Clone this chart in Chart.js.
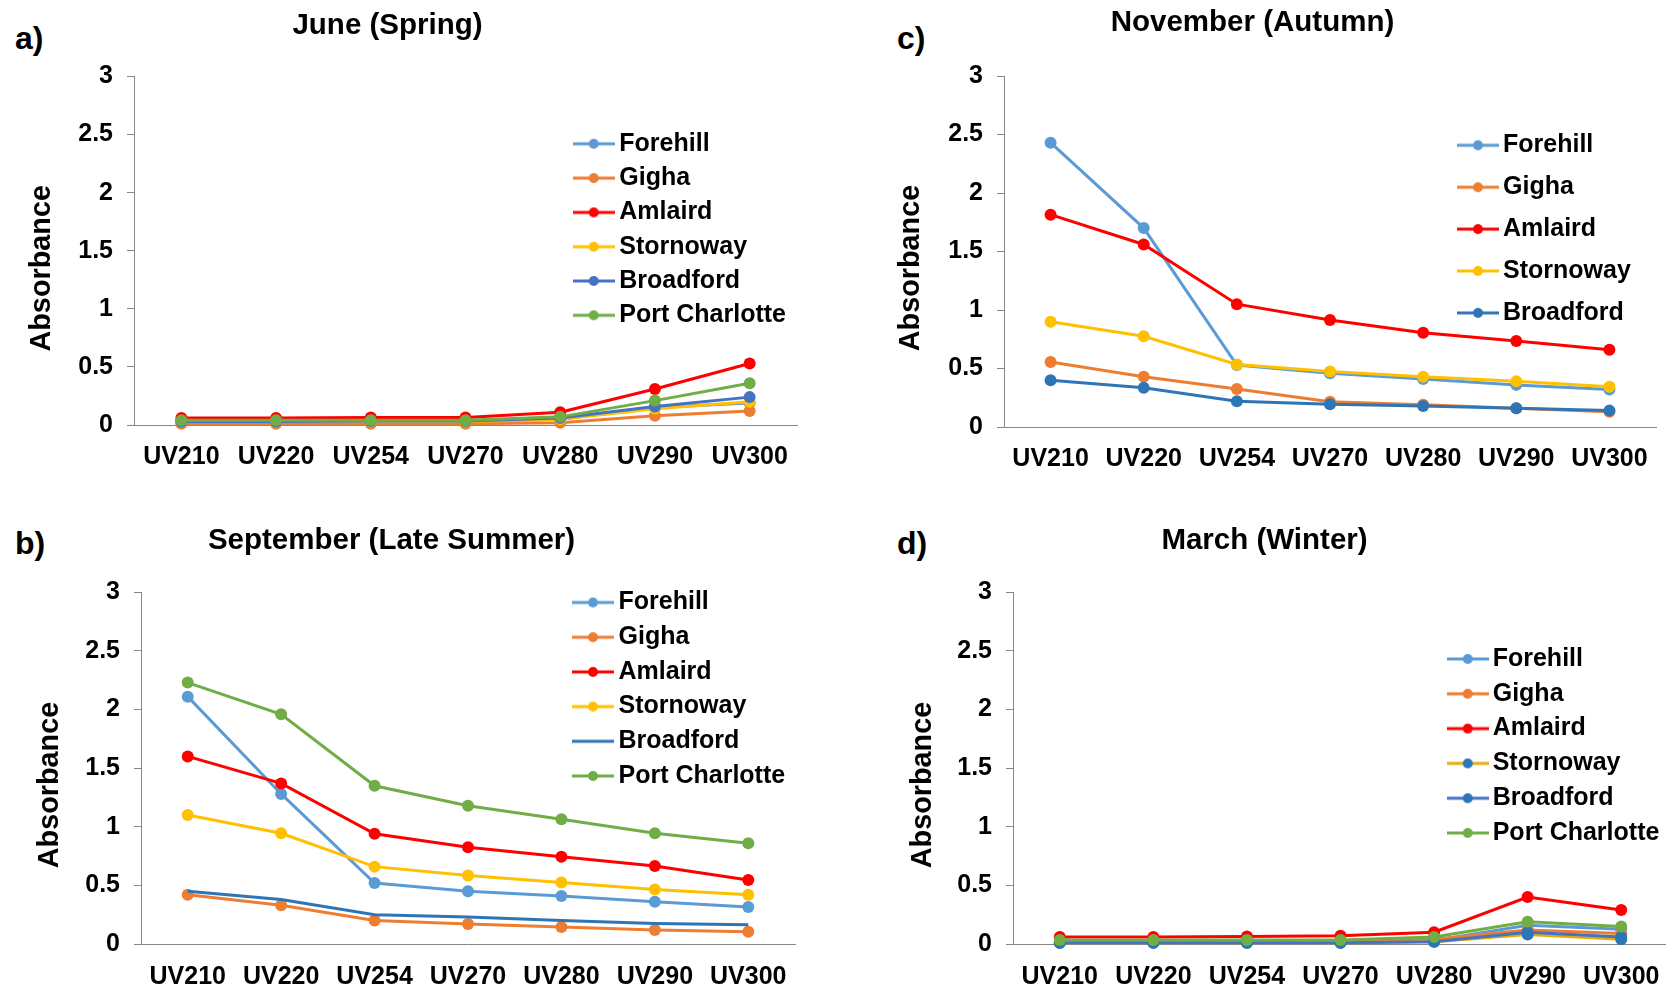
<!DOCTYPE html>
<html>
<head>
<meta charset="utf-8">
<script src="https://cdn.jsdelivr.net/npm/chart.js@4.4.0/dist/chart.umd.min.js"></script>
<style>
  html, body { margin: 0; padding: 0; background: #fff; width: 1666px; height: 989px; overflow: hidden; }
  .panel { position: absolute; }
  .tag { position: absolute; font: bold 32px 'Liberation Sans', Arial, sans-serif; line-height: 32px; color: #000; }
</style>
</head>
<body>
<div class="tag" style="left:15px;top:22px">a)</div>
<div class="tag" style="left:15px;top:527px">b)</div>
<div class="tag" style="left:897px;top:22px">c)</div>
<div class="tag" style="left:897px;top:527px">d)</div>

<div class="panel" style="left:-28px;top:0px;width:831px;height:485px"><canvas id="chartA"></canvas></div>
<div class="panel" style="left:-18px;top:495px;width:819px;height:509px"><canvas id="chartB"></canvas></div>
<div class="panel" style="left:843px;top:0px;width:819px;height:487px"><canvas id="chartC"></canvas></div>
<div class="panel" style="left:855px;top:495px;width:819px;height:509px"><canvas id="chartD"></canvas></div>

<script>
const categories = ['UV210', 'UV220', 'UV254', 'UV270', 'UV280', 'UV290', 'UV300'];
const yTickValues = [0, 0.5, 1, 1.5, 2, 2.5, 3];

// a) June (Spring)
const juneForehill = [0.03, 0.03, 0.03, 0.03, 0.05, 0.15, 0.19];
const juneGigha = [0.01, 0.01, 0.01, 0.01, 0.02, 0.08, 0.12];
const juneAmlaird = [0.06, 0.06, 0.065, 0.065, 0.11, 0.31, 0.53];
const juneStornoway = [0.03, 0.03, 0.03, 0.03, 0.05, 0.14, 0.2];
const juneBroadford = [0.03, 0.03, 0.035, 0.035, 0.06, 0.16, 0.24];
const junePortCharlotte = [0.04, 0.04, 0.04, 0.04, 0.07, 0.21, 0.36];

// b) September (Late Summer)
const septForehill = [2.11, 1.28, 0.52, 0.45, 0.41, 0.36, 0.315];
const septGigha = [0.42, 0.33, 0.2, 0.17, 0.145, 0.12, 0.105];
const septAmlaird = [1.6, 1.37, 0.94, 0.825, 0.745, 0.665, 0.545];
const septStornoway = [1.1, 0.945, 0.66, 0.585, 0.525, 0.465, 0.42];
const septBroadford = [0.45, 0.38, 0.25, 0.23, 0.2, 0.175, 0.165];
const septPortCharlotte = [2.23, 1.96, 1.35, 1.18, 1.065, 0.945, 0.86];

// c) November (Autumn)
const novForehill = [2.43, 1.7, 0.53, 0.46, 0.41, 0.36, 0.32];
const novGigha = [0.555, 0.43, 0.325, 0.215, 0.19, 0.16, 0.13];
const novAmlaird = [1.815, 1.56, 1.05, 0.915, 0.805, 0.735, 0.66];
const novStornoway = [0.9, 0.775, 0.535, 0.475, 0.43, 0.39, 0.345];
const novBroadford = [0.4, 0.335, 0.22, 0.195, 0.18, 0.16, 0.14];

// d) March (Winter)
const marForehill = [0.01, 0.01, 0.01, 0.01, 0.03, 0.16, 0.125];
const marGigha = [0.02, 0.02, 0.02, 0.02, 0.04, 0.12, 0.09];
const marAmlaird = [0.06, 0.06, 0.065, 0.07, 0.1, 0.4, 0.29];
const marStornoway = [0.01, 0.01, 0.01, 0.01, 0.02, 0.08, 0.04];
const marBroadford = [0.01, 0.01, 0.01, 0.01, 0.02, 0.1, 0.06];
const marPortCharlotte = [0.035, 0.035, 0.035, 0.035, 0.06, 0.19, 0.15];

const lightBlue = '#5B9BD5', orange = '#ED7D31', red = '#FF0000', gold = '#FFC000',
      blue = '#4472C4', steel = '#2E75B6', green = '#70AD47';
const axisGrey = '#868686';
const fontFamily = "'Liberation Sans', Arial, sans-serif";

Chart.defaults.font.family = fontFamily;
Chart.defaults.color = '#000';

// little line+dot picture for the legend, excel style
function legendMark(lineColor, dotColor) {
  const c = document.createElement('canvas');
  c.width = 42; c.height = 14;
  const g = c.getContext('2d');
  g.strokeStyle = lineColor; g.lineWidth = 3;
  g.beginPath(); g.moveTo(0, 7); g.lineTo(42, 7); g.stroke();
  if (dotColor) {
    g.fillStyle = dotColor;
    g.beginPath(); g.arc(21, 7, 5, 0, Math.PI * 2); g.fill();
  }
  return c;
}

function series(label, values, lineColor, dotColor, i) {
  return {
    label: label,
    data: values,
    borderColor: lineColor,
    backgroundColor: dotColor || lineColor,
    pointBackgroundColor: dotColor || lineColor,
    pointBorderColor: dotColor || lineColor,
    pointBorderWidth: 0,
    pointRadius: dotColor ? 6 : 0,
    borderWidth: 3,
    tension: 0,
    clip: false,
    order: -i,
    legendMark: legendMark(lineColor, dotColor)
  };
}

// move the legend box inside the plot area where the picture has it
const legendPlace = {
  id: 'legendPlace',
  afterLayout(chart, args, o) {
    const lg = chart.legend;
    lg.left = o.left; lg.top = o.top;
    lg.width = 320; lg.height = 400;
    lg.right = o.left + 320; lg.bottom = o.top + 400;
  }
};

// excel puts the value axis title a bit below the middle of the plot
const yTitle = {
  id: 'yTitle',
  afterDraw(chart, args, o) {
    const ctx = chart.ctx;
    ctx.save();
    ctx.translate(o.x, o.y);
    ctx.rotate(-Math.PI / 2);
    ctx.font = 'bold 28.8px ' + fontFamily;
    ctx.fillStyle = '#000';
    ctx.textAlign = 'center';
    ctx.textBaseline = 'middle';
    ctx.fillText(o.text, 0, 0);
    ctx.restore();
  }
};

function drawPanel(p) {
  const fs = 25;
  const ctr = p.lineX + 21;
  const boxW = 2 * (p.textX - fs / 2 - ctr);
  const pad = p.step - fs;
  const legLeft = ctr - boxW / 2 - pad - p.left;
  const legTop = p.firstY - fs / 2 - pad - p.top;

  new Chart(document.getElementById(p.id), {
    type: 'line',
    data: { labels: categories, datasets: p.datasets },
    plugins: [legendPlace, yTitle],
    options: {
      responsive: true,
      maintainAspectRatio: false,
      animation: false,
      layout: { padding: 0 },
      plugins: {
        title: {
          display: true, text: p.title,
          font: { size: 29.5, weight: 'bold' },
          padding: { top: p.titlePad[0], bottom: p.titlePad[1] }
        },
        legend: {
          position: 'chartArea',
          align: 'start',
          labels: {
            usePointStyle: true,
            pointStyleWidth: boxW,
            padding: pad,
            color: '#000',
            font: { size: fs, weight: 'bold' },
            generateLabels: (chart) => chart.data.datasets.map((ds, i) => ({
              text: ds.label, datasetIndex: i, pointStyle: ds.legendMark,
              fillStyle: ds.borderColor, strokeStyle: ds.borderColor, lineWidth: 0,
              hidden: false, fontColor: '#000'
            }))
          }
        },
        legendPlace: { left: legLeft, top: legTop },
        yTitle: { text: 'Absorbance', x: p.yTitleAt[0] - p.left, y: p.yTitleAt[1] - p.top },
        tooltip: { enabled: false }
      },
      scales: {
        x: {
          offset: true,
          grid: { display: false, offset: true },
          border: { display: true, color: axisGrey, width: 1 },
          ticks: { font: { size: 25, weight: 'bold' }, padding: p.xPad, maxRotation: 0, autoSkip: false, color: '#000' },
          afterFit: (s) => { s.height = 60; }
        },
        y: {
          min: 0, max: 3,
          afterBuildTicks: (s) => { s.ticks = yTickValues.map(v => ({ value: v })); },
          grid: { display: true, drawOnChartArea: false, drawTicks: true, tickLength: 7, color: axisGrey },
          border: { display: true, color: axisGrey, width: 1 },
          ticks: { font: { size: 25, weight: 'bold' }, padding: 14, color: '#000', callback: (v) => String(v) },
          afterFit: (s) => { s.width = p.yWidth; }
        }
      }
    }
  });
}

drawPanel({
  id: 'chartA', left: -28, top: 0, yWidth: 162, yTitleAt: [42.5, 268.3], xPad: 9.5,
  title: 'June (Spring)', titlePad: [8.3, 32.8],
  lineX: 572.7, textX: 619.3, firstY: 143.8, step: 34.3,
  datasets: [
    series('Forehill', juneForehill, lightBlue, lightBlue, 0),
    series('Gigha', juneGigha, orange, orange, 1),
    series('Amlaird', juneAmlaird, red, red, 2),
    series('Stornoway', juneStornoway, gold, gold, 3),
    series('Broadford', juneBroadford, blue, blue, 4),
    series('Port Charlotte', junePortCharlotte, green, green, 5)
  ]
});

drawPanel({
  id: 'chartB', left: -18, top: 495, yWidth: 159, yTitleAt: [50, 785], xPad: 10.5,
  title: 'September (Late Summer)', titlePad: [28, 33.9],
  lineX: 572, textX: 618.5, firstY: 602.5, step: 34.7,
  datasets: [
    series('Forehill', septForehill, lightBlue, lightBlue, 0),
    series('Gigha', septGigha, orange, orange, 1),
    series('Amlaird', septAmlaird, red, red, 2),
    series('Stornoway', septStornoway, gold, gold, 3),
    series('Broadford', septBroadford, steel, null, 4),
    series('Port Charlotte', septPortCharlotte, green, green, 5)
  ]
});

drawPanel({
  id: 'chartC', left: 843, top: 0, yWidth: 161, yTitleAt: [910.6, 268], xPad: 9.5,
  title: 'November (Autumn)', titlePad: [5.3, 35.3],
  lineX: 1457, textX: 1503, firstY: 145.3, step: 41.9,
  datasets: [
    series('Forehill', novForehill, lightBlue, lightBlue, 0),
    series('Gigha', novGigha, orange, orange, 1),
    series('Amlaird', novAmlaird, red, red, 2),
    series('Stornoway', novStornoway, gold, gold, 3),
    series('Broadford', novBroadford, steel, steel, 4)
  ]
});

drawPanel({
  id: 'chartD', left: 855, top: 495, yWidth: 158, yTitleAt: [923, 785], xPad: 10.5,
  title: 'March (Winter)', titlePad: [28, 33.9],
  lineX: 1446.7, textX: 1492.7, firstY: 659, step: 34.8,
  datasets: [
    series('Forehill', marForehill, lightBlue, lightBlue, 0),
    series('Gigha', marGigha, orange, orange, 1),
    series('Amlaird', marAmlaird, red, red, 2),
    series('Stornoway', marStornoway, '#E6AC00', steel, 3),
    series('Broadford', marBroadford, blue, steel, 4),
    series('Port Charlotte', marPortCharlotte, green, green, 5)
  ]
});
</script>
</body>
</html>
